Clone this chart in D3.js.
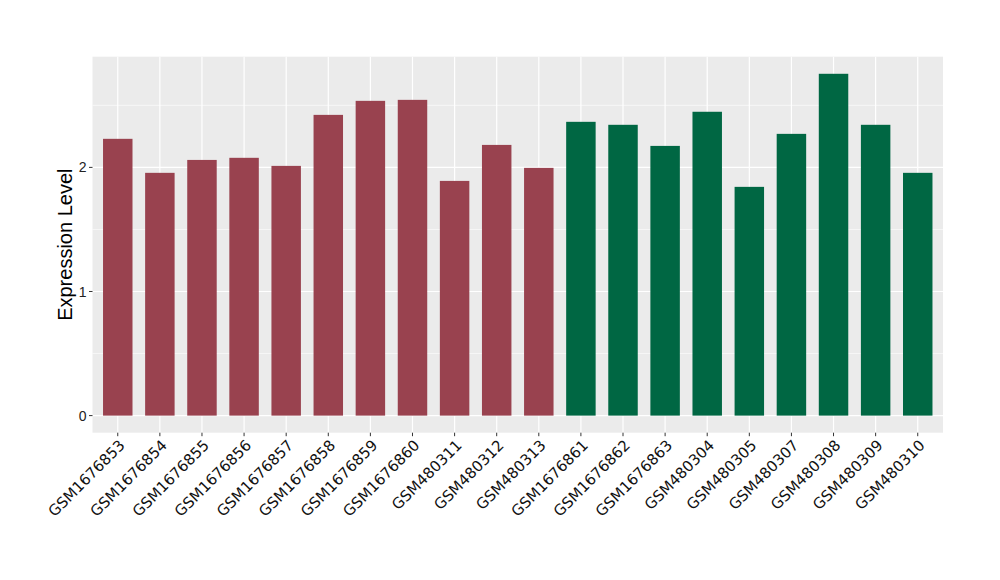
<!DOCTYPE html>
<html><head><meta charset="utf-8">
<script src="https://cdn.jsdelivr.net/npm/d3@7"></script>
<style>body{margin:0;background:#fff;} text{font-family:"Liberation Sans",Arial,sans-serif;}</style>
</head><body>
<svg id="c" width="1000" height="580"></svg>
<script>
const samples = ["GSM1676853","GSM1676854","GSM1676855","GSM1676856","GSM1676857","GSM1676858","GSM1676859","GSM1676860","GSM480311","GSM480312","GSM480313","GSM1676861","GSM1676862","GSM1676863","GSM480304","GSM480305","GSM480307","GSM480308","GSM480309","GSM480310"];
const values = [2.230,1.956,2.060,2.077,2.012,2.423,2.536,2.544,1.891,2.181,1.996,2.367,2.343,2.173,2.448,1.843,2.270,2.754,2.343,1.956];
const groups = ["A","A","A","A","A","A","A","A","A","A","A","B","B","B","B","B","B","B","B","B"];
const groupColors = {A:"#99424f", B:"#006743"};
const yTicks = [0,1,2];
const yMinor = [0.5,1.5,2.5];
const yLabel = "Expression Level";

const svg = d3.select("#c");
const L = 92.5, R = 943, T = 56.7, B = 432.7;
const maxV = d3.max(values);
const y = d3.scaleLinear().domain([-0.05*maxV, maxV*1.05]).range([B, T]);
// discrete x scale with ggplot-like expansion (0.6 units each side), bar width 0.7
const x = d3.scaleBand().domain(samples).range([L, R]).paddingInner(0.3).paddingOuter(0.25);
const cx = d => x(d) + x.bandwidth() / 2;
const bw = x.bandwidth();

svg.append("rect").attr("x", L).attr("y", T).attr("width", R - L).attr("height", B - T).attr("fill", "#ebebeb");
const g = svg.append("g");
yMinor.forEach(v => g.append("line").attr("x1", L).attr("x2", R).attr("y1", y(v)).attr("y2", y(v)).attr("stroke", "#fff").attr("stroke-width", 0.6));
yTicks.forEach(v => g.append("line").attr("x1", L).attr("x2", R).attr("y1", y(v)).attr("y2", y(v)).attr("stroke", "#fff").attr("stroke-width", 1.2));
samples.forEach(s => g.append("line").attr("x1", cx(s)).attr("x2", cx(s)).attr("y1", T).attr("y2", B).attr("stroke", "#fff").attr("stroke-width", 1.2));

svg.append("g").selectAll("rect").data(samples).join("rect")
  .attr("x", d => x(d))
  .attr("width", bw)
  .attr("y", (d, i) => y(values[i]))
  .attr("height", (d, i) => y(0) - y(values[i]))
  .attr("fill", (d, i) => groupColors[groups[i]]);

// y axis
const ya = svg.append("g");
yTicks.forEach(v => {
  ya.append("line").attr("x1", L - 3.5).attr("x2", L).attr("y1", y(v)).attr("y2", y(v)).attr("stroke", "#333").attr("stroke-width", 1);
  ya.append("text").attr("x", L - 6).attr("y", y(v)).attr("dy", "0.36em").attr("text-anchor", "end").attr("font-size", 14).attr("fill", "#222").text(v);
});
// x axis
const xa = svg.append("g");
samples.forEach(s => {
  xa.append("line").attr("x1", cx(s)).attr("x2", cx(s)).attr("y1", B).attr("y2", B + 3.5).attr("stroke", "#333").attr("stroke-width", 1);
  xa.append("text").attr("transform", `translate(${cx(s)},${B + 5.5}) rotate(-45)`)
    .attr("text-anchor", "end").attr("dy", "0.76em").attr("font-size", 15)
    .style("font-family", "'DejaVu Sans', sans-serif").attr("fill", "#111").text(s);
});
svg.append("text").attr("transform", `translate(72,${(T + B) / 2}) rotate(-90)`).attr("text-anchor", "middle")
  .attr("font-size", 20).attr("fill", "#000").text(yLabel);
</script>
</body></html>
